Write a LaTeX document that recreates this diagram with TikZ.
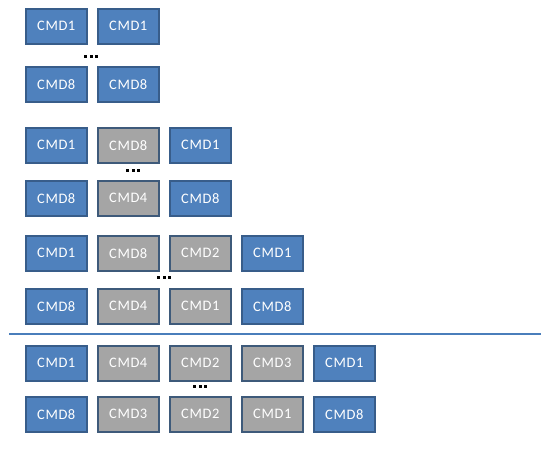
\documentclass[tikz,border=0pt]{standalone}
\usepackage{fontspec}
\setmainfont{Carlito}[LetterSpace=4]
\definecolor{bfill}{HTML}{4F81BD}
\definecolor{bdraw}{HTML}{385D8A}
\definecolor{gfill}{HTML}{A5A5A5}
\definecolor{gdraw}{HTML}{3E5A7A}
\definecolor{linecol}{HTML}{4A7EBB}
\tikzset{
  cmd/.style={draw=bdraw, line width=1.6pt, minimum width=61pt, minimum height=35pt, inner sep=0pt, text=white, font=\fontsize{14.5}{15}\selectfont, anchor=north west},
  bluebox/.style={cmd, fill=bfill},
  graybox/.style={cmd, fill=gfill, draw=gdraw},
  dotmark/.style={rectangle, fill=black, inner sep=0pt, minimum size=3pt},
  sepline/.style={draw=linecol, line width=1.3pt}
}
\begin{document}
\begin{tikzpicture}[x=1pt,y=-1pt]
\useasboundingbox (0,0) rectangle (550,449);
% group 1
\node[bluebox] (a11) at (25,8) {CMD1};
\node[bluebox] (a12) at (97,8) {CMD1};
\node[bluebox] (a21) at (25,66) {CMD8};
\node[bluebox] (a22) at (97,66) {CMD8};
\foreach \i/\dx in {1/-5.5,2/0,3/5.5} \node[dotmark] (ad\i) at (91+\dx,57) {};
% group 2
\node[bluebox] (b11) at (25,127) {CMD1};
\node[graybox] (b12) at (97,127) {CMD8};
\node[bluebox] (b13) at (169,127) {CMD1};
\node[bluebox] (b21) at (25,180) {CMD8};
\node[graybox] (b22) at (97,180) {CMD4};
\node[bluebox] (b23) at (169,180) {CMD8};
\foreach \i/\dx in {1/-5.5,2/0,3/5.5} \node[dotmark] (bd\i) at (133+\dx,171) {};
% group 3
\node[bluebox] (c11) at (25,235) {CMD1};
\node[graybox] (c12) at (97,235) {CMD8};
\node[graybox] (c13) at (169,235) {CMD2};
\node[bluebox] (c14) at (241,235) {CMD1};
\node[bluebox] (c21) at (25,288) {CMD8};
\node[graybox] (c22) at (97,288) {CMD4};
\node[graybox] (c23) at (169,288) {CMD1};
\node[bluebox] (c24) at (241,288) {CMD8};
\foreach \i/\dx in {1/-5.5,2/0,3/5.5} \node[dotmark] (cd\i) at (164+\dx,278) {};
% separator
\coordinate (l1) at (9,334);
\coordinate (l2) at (541,334);
\draw[sepline] (l1) -- (l2);
% group 4
\node[bluebox] (d11) at (25,345) {CMD1};
\node[graybox] (d12) at (97,345) {CMD4};
\node[graybox] (d13) at (169,345) {CMD2};
\node[graybox] (d14) at (241,345) {CMD3};
\node[bluebox] (d15) at (313,345) {CMD1};
\node[bluebox] (d21) at (25,396) {CMD8};
\node[graybox] (d22) at (97,396) {CMD3};
\node[graybox] (d23) at (169,396) {CMD2};
\node[graybox] (d24) at (241,396) {CMD1};
\node[bluebox] (d25) at (313,396) {CMD8};
\foreach \i/\dx in {1/-5.5,2/0,3/5.5} \node[dotmark] (dd\i) at (200+\dx,387) {};
\end{tikzpicture}
\end{document}
